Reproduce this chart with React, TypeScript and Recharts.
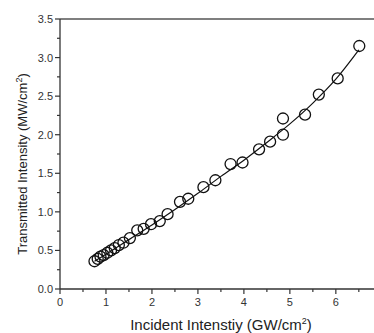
import React from "react";
import {
  ComposedChart,
  Line,
  ReferenceLine,
  Scatter,
  XAxis,
  YAxis,
} from "recharts";

const incident = [
  0.75, 0.82, 0.88, 0.95, 1.03, 1.11, 1.19, 1.28, 1.38, 1.52, 1.68, 1.82, 1.98,
  2.17, 2.34, 2.61, 2.79, 3.12, 3.38, 3.71, 3.97, 4.33, 4.57, 4.85, 4.85, 5.33,
  5.63, 6.04, 6.51,
];
const transmitted = [
  0.36, 0.39, 0.42, 0.44, 0.47, 0.5, 0.53, 0.57, 0.6, 0.66, 0.76, 0.78, 0.84,
  0.88, 0.97, 1.13, 1.17, 1.32, 1.41, 1.62, 1.64, 1.81, 1.91, 2.0, 2.21, 2.26,
  2.52, 2.73, 3.15,
];

const fitX = [0.75, 1, 1.5, 2, 2.5, 3, 3.5, 4, 4.5, 5, 5.5, 6, 6.5];
const fitY = [0.36, 0.45, 0.64, 0.83, 1.03, 1.24, 1.46, 1.67, 1.9, 2.14, 2.41, 2.72, 3.1];

const xTicks = [0, 0.5, 1, 1.5, 2, 2.5, 3, 3.5, 4, 4.5, 5, 5.5, 6, 6.5];
const yTicks = [0, 0.25, 0.5, 0.75, 1, 1.25, 1.5, 1.75, 2, 2.25, 2.5, 2.75, 3, 3.25, 3.5];

const points = incident.map((x, i) => ({ x, y: transmitted[i] }));
const fitLine = fitX.map((x, i) => ({ x, y: fitY[i] }));

const FONT = "Liberation Sans, Arial, sans-serif";
const AXIS = "#333";

function XTick({ x, y, payload }: any) {
  const major = Number.isInteger(payload.value);
  return (
    <g>
      <line x1={x} x2={x} y1={y} y2={y + (major ? 5 : 3)} stroke={AXIS} strokeWidth={1.2} />
      {major && (
        <text x={x} y={y + 17} textAnchor="middle" fontSize={11} fill="#333" fontFamily={FONT}>
          {payload.value}
        </text>
      )}
    </g>
  );
}

function YTick({ x, y, payload }: any) {
  const major = Math.abs(payload.value * 2 - Math.round(payload.value * 2)) < 1e-6;
  return (
    <g>
      <line x1={x} x2={x - (major ? 5 : 3)} y1={y} y2={y} stroke={AXIS} strokeWidth={1.2} />
      {major && (
        <text x={x - 7} y={y + 4} textAnchor="end" fontSize={11} fill="#333" fontFamily={FONT}>
          {payload.value.toFixed(1)}
        </text>
      )}
    </g>
  );
}

function Ring(props: any) {
  return <circle cx={props.cx} cy={props.cy} r={5.5} fill="none" stroke="#111" strokeWidth={1.3} />;
}

export default function App() {
  return (
    <div style={{ position: "absolute", left: 0, top: 0, width: 374, height: 333, background: "#fff" }}>
      <ComposedChart width={374} height={333} margin={{ top: 19, right: 0, left: 0, bottom: 0 }}>
        <XAxis
          type="number"
          dataKey="x"
          domain={[0, 6.83]}
          ticks={xTicks}
          interval={0}
          height={44}
          tickLine={false}
          tickSize={0}
          tickMargin={0}
          tick={<XTick />}
          stroke={AXIS}
          strokeWidth={1.3}
          allowDataOverflow
        />
        <YAxis
          type="number"
          dataKey="y"
          domain={[0, 3.5]}
          ticks={yTicks}
          interval={0}
          width={60}
          tickLine={false}
          tickSize={0}
          tickMargin={0}
          tick={<YTick />}
          stroke={AXIS}
          strokeWidth={1.3}
        />
        <ReferenceLine y={3.5} stroke="#555" strokeWidth={1.3} />
        <Line
          data={fitLine}
          dataKey="y"
          type="monotone"
          stroke="#111"
          strokeWidth={1.2}
          dot={false}
          activeDot={false}
          isAnimationActive={false}
        />
        <Scatter data={points} dataKey="y" shape={<Ring />} isAnimationActive={false} />
      </ComposedChart>
      <svg
        width={374}
        height={333}
        style={{ position: "absolute", left: 0, top: 0, pointerEvents: "none" }}
      >
        <text
          x={27}
          y={164}
          transform="rotate(-90 27 164)"
          textAnchor="middle"
          fontSize={13}
          fill="#222"
          fontFamily={FONT}
        >
          Transmitted Intensity (MW/cm
          <tspan dy={-5} fontSize={9}>2</tspan>
          <tspan dy={5}>)</tspan>
        </text>
        <text x={221} y={330} textAnchor="middle" fontSize={15} fill="#222" fontFamily={FONT}>
          Incident Intenstiy (GW/cm
          <tspan dy={-6} fontSize={9}>2</tspan>
          <tspan dy={6}>)</tspan>
        </text>
      </svg>
    </div>
  );
}
